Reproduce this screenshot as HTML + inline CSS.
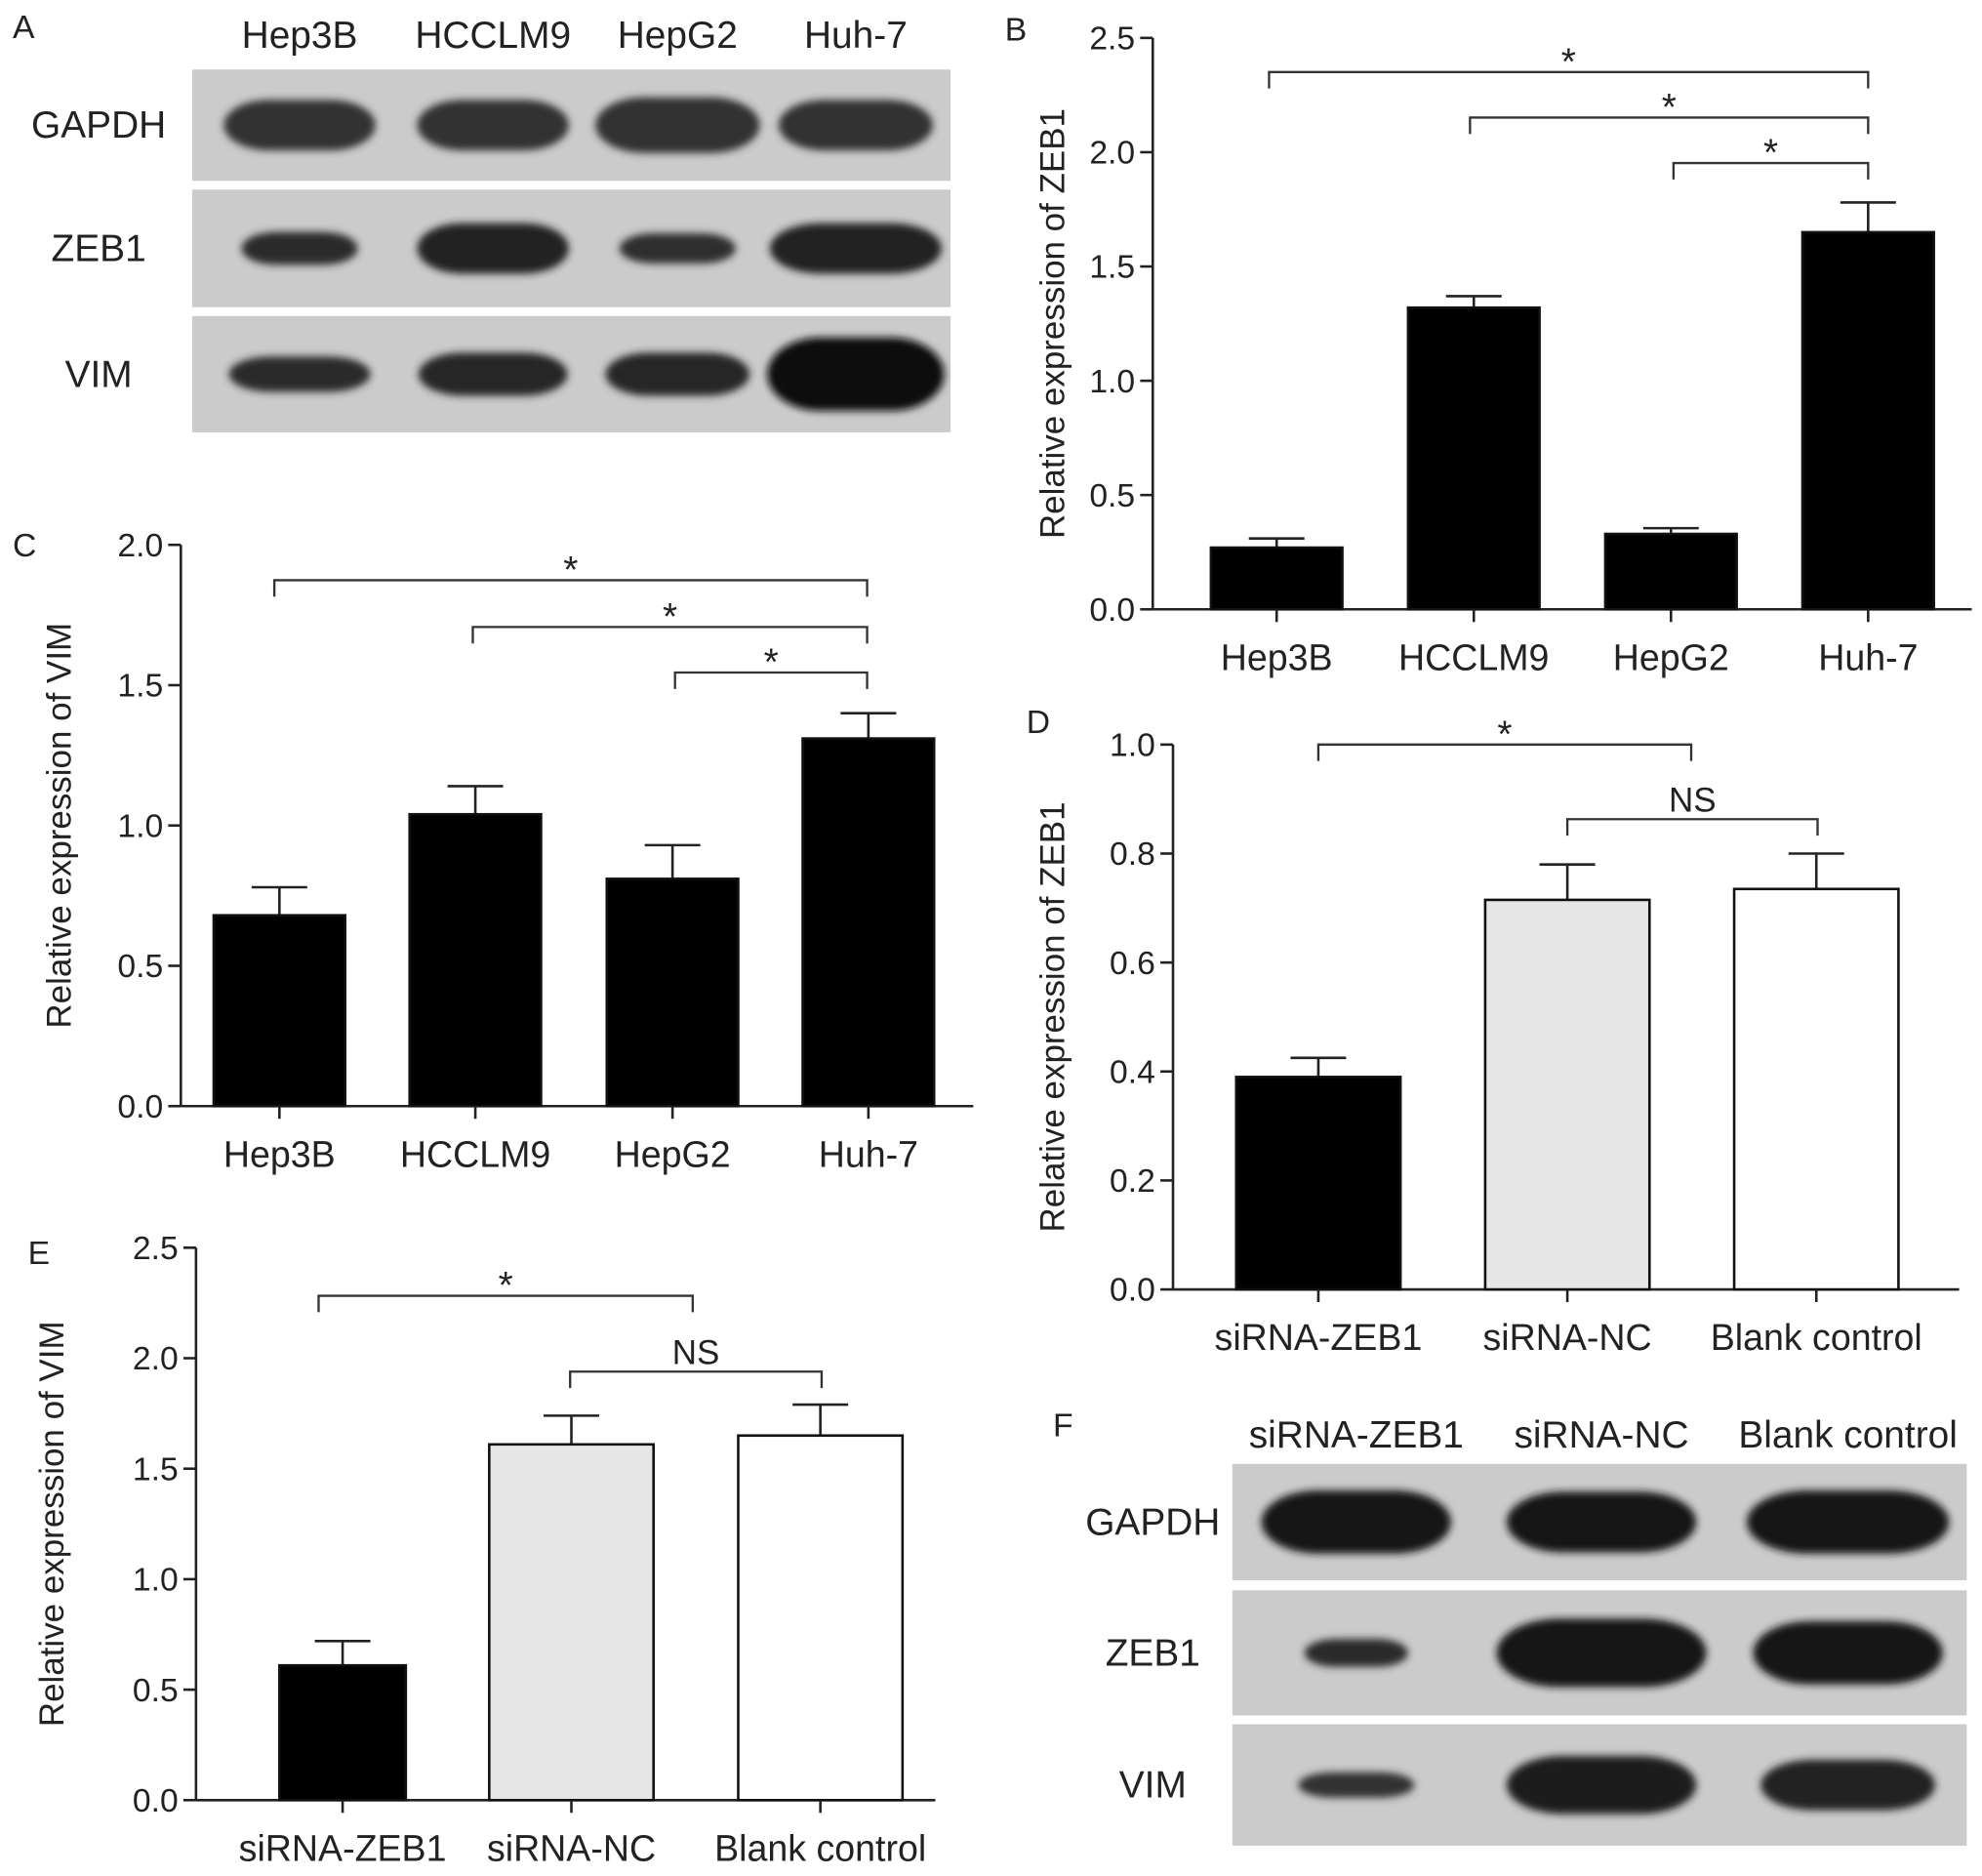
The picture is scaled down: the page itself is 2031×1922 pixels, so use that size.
<!DOCTYPE html>
<html><head><meta charset="utf-8"><style>
html,body{margin:0;padding:0;background:#fff}
svg{display:block}
text{font-family:"Liberation Sans",sans-serif;fill:#222}
</style></head><body>
<svg id="fig" width="2031" height="1922" viewBox="0 0 1568 1484" xmlns="http://www.w3.org/2000/svg">
<defs>
<filter id="blur" x="-20%" y="-50%" width="140%" height="200%"><feGaussianBlur stdDeviation="3"/></filter>
</defs>
<g id="panels"></g>
</svg>
<script>
// Panel B data
const bCats=["Hep3B","HCCLM9","HepG2","Huh-7"];
const bVals=[0.27,1.32,0.33,1.65];
const bErrs=[0.04,0.05,0.025,0.13];
const bTicks=["0.0","0.5","1.0","1.5","2.0","2.5"];
// Panel C data
const cCats=["Hep3B","HCCLM9","HepG2","Huh-7"];
const cVals=[0.68,1.04,0.81,1.31];
const cErrs=[0.1,0.1,0.12,0.09];
const cTicks=["0.0","0.5","1.0","1.5","2.0"];
// Panel D data
const dCats=["siRNA-ZEB1","siRNA-NC","Blank control"];
const dVals=[0.39,0.715,0.735];
const dErrs=[0.035,0.065,0.065];
const dTicks=["0.0","0.2","0.4","0.6","0.8","1.0"];
// Panel E data
const eCats=["siRNA-ZEB1","siRNA-NC","Blank control"];
const eVals=[0.61,1.61,1.65];
const eErrs=[0.11,0.13,0.14];
const eTicks=["0.0","0.5","1.0","1.5","2.0","2.5"];

const NS="http://www.w3.org/2000/svg";
const root=document.getElementById('panels');
function el(tag,attrs,parent,txt){const e=document.createElementNS(NS,tag);for(const k in attrs)e.setAttribute(k,attrs[k]);if(txt!==undefined)e.textContent=txt;(parent||root).appendChild(e);return e;}

function chart(o){
  const g=el('g',{});
  
  
  const y=v=>o.y0-(v/o.max)*(o.y0-o.y1);
  const x=i=>o.cx[i];
  const ya=el('line',{x1:o.ax,y1:o.y1,x2:o.ax,y2:o.y0,stroke:'#222','stroke-width':2},g);
  
  
  o.ticks.forEach((t,i)=>{
    const v=parseFloat(t), yy=y(v);
    el('line',{x1:o.ax-10,y1:yy,x2:o.ax,y2:yy,stroke:'#222','stroke-width':2},g);
    const tl=el('text',{x:o.ax-14,y:yy+9,'font-size':26,'text-anchor':'end'},g,t);
    
    
  });
  const xa=el('line',{x1:o.ax,y1:o.y0,x2:o.xend,y2:o.y0,stroke:'#222','stroke-width':2},g);
  
  
  o.cats.forEach((c,i)=>{
    const cx=x(i), top=y(o.vals[i]), et=y(o.vals[i]+o.errs[i]);
    el('line',{x1:cx,y1:top,x2:cx,y2:et,stroke:'#222','stroke-width':2},g);
    el('line',{x1:cx-o.cap,y1:et,x2:cx+o.cap,y2:et,stroke:'#222','stroke-width':2},g);
    const b=el('rect',{x:cx-o.bw[i]/2,y:top,width:o.bw[i],height:o.y0-top,fill:o.fills[i],stroke:'#111','stroke-width':2},g);
    
    
    el('line',{x1:cx,y1:o.y0,x2:cx,y2:o.y0+10,stroke:'#222','stroke-width':2},g);
    const xl=el('text',{x:cx,y:o.y0+48,'font-size':29,'text-anchor':'middle'},g,c);
    
    
  });
  const yt=el('text',{x:0,y:0,'font-size':27,'text-anchor':'middle',transform:`translate(${o.ylx},${(o.y0+o.y1)/2}) rotate(-90)`},g,o.ytitle);
  
  
  o.brackets.forEach(br=>{
    const [a,b,yy,lab]=br;
    const p=el('path',{d:`M${a} ${yy+13}V${yy}H${b}V${yy+13}`,fill:'none',stroke:'#333','stroke-width':1.8},g);
    
    
    const t=el('text',{x:(a+b)/2,y:lab==='*'?yy+2:yy-6,'font-size':lab==='*'?30:27,'text-anchor':'middle'},g,lab);
    
    
  });
  const L=el('text',{x:o.lx,y:o.ly,'font-size':26},g,o.letter);
  
  
}

chart({name:'chart-b-zeb1',letter:'B',lx:795,ly:32,ax:912,y0:482,y1:30,max:2.5,xend:1560,cx:[1010,1166,1322,1478],bw:[104,104,104,104],cap:22,
 cats:bCats,vals:bVals,errs:bErrs,ticks:bTicks,fills:['#000','#000','#000','#000'],ylx:842,ytitle:'Relative expression of ZEB1',
 brackets:[[1004,1478,57,'*'],[1163,1478,93,'*'],[1324,1478,129,'*']]});
chart({name:'chart-c-vim',letter:'C',lx:10,ly:440,ax:143,y0:875,y1:431,max:2.0,xend:770,cx:[221,376,532,687],bw:[104,104,104,104],cap:22,
 cats:cCats,vals:cVals,errs:cErrs,ticks:cTicks,fills:['#000','#000','#000','#000'],ylx:56,ytitle:'Relative expression of VIM',
 brackets:[[217,686,459,'*'],[374,686,496,'*'],[534,686,532,'*']]});
chart({name:'chart-d-zeb1-sirna',letter:'D',lx:812,ly:580,ax:928,y0:1020,y1:589,max:1.0,xend:1550,cx:[1043,1240,1437],bw:[130,130,130],cap:22,
 cats:dCats,vals:dVals,errs:dErrs,ticks:dTicks,fills:['#000','#e6e6e6','#fff'],ylx:842,ytitle:'Relative expression of ZEB1',
 brackets:[[1043,1338,589,'*'],[1240,1438,648,'NS']]});
chart({name:'chart-e-vim-sirna',letter:'E',lx:22,ly:1000,ax:155,y0:1424,y1:987,max:2.5,xend:740,cx:[271,452,649],bw:[100,130,130],cap:22,
 cats:eCats,vals:eVals,errs:eErrs,ticks:eTicks,fills:['#000','#e6e6e6','#fff'],ylx:50,ytitle:'Relative expression of VIM',
 brackets:[[252,548,1025,'*'],[451,650,1085,'NS']]});

function blot(o){
  const g=el('g',{});
  
  
  const L=el('text',{x:o.lx,y:o.ly,'font-size':26},g,o.letter);
  
  
  o.cols.forEach((c,i)=>{
    const t=el('text',{x:o.cx[i],y:o.colY,'font-size':30,'text-anchor':'middle'},g,c);
    
    
  });
  o.rows.forEach((r,j)=>{
    const [y0,y1]=o.ry[j];
    const bg=el('rect',{x:o.x0,y:y0,width:o.x1-o.x0,height:y1-y0,fill:'#cbcbcb'},g);
    
    
    const t=el('text',{x:o.rlx,y:(y0+y1)/2+10,'font-size':30,'text-anchor':'middle'},g,r);
    
    
    o.cx.forEach((cx,i)=>{
      const [w,h,c]=o.bands[j][i];
      const b=el('rect',{x:cx-w/2,y:(y0+y1)/2-h/2,width:w,height:h,rx:w*0.3,ry:h/2,fill:c,filter:'url(#blur)'},g);
      
      
    });
  });
}
blot({name:'western-blot-a',letter:'A',lx:10,ly:30,x0:152,x1:752,colY:38,cx:[237,390,536,677],cols:["Hep3B","HCCLM9","HepG2","Huh-7"],
 rows:["GAPDH","ZEB1","VIM"],ry:[[55,143],[150,243],[250,342]],rlx:78,
 bands:[[[120,40,'#333'],[120,40,'#333'],[130,44,'#333'],[122,40,'#333']],
        [[92,26,'#2a2a2a'],[120,40,'#222'],[92,24,'#2e2e2e'],[136,40,'#222']],
        [[112,28,'#2a2a2a'],[118,34,'#262626'],[114,34,'#262626'],[140,58,'#111']]]});
blot({name:'western-blot-f',letter:'F',lx:833,ly:1136,x0:975,x1:1556,colY:1145,cx:[1073,1267,1462],cols:["siRNA-ZEB1","siRNA-NC","Blank control"],
 rows:["GAPDH","ZEB1","VIM"],ry:[[1158,1250],[1258,1357],[1364,1460]],rlx:912,
 bands:[[[150,50,'#151515'],[150,48,'#181818'],[160,50,'#151515']],
        [[82,22,'#2a2a2a'],[166,54,'#151515'],[150,50,'#181818']],
        [[92,20,'#333'],[150,46,'#1c1c1c'],[138,40,'#222']]]});
</script>
</body></html>
